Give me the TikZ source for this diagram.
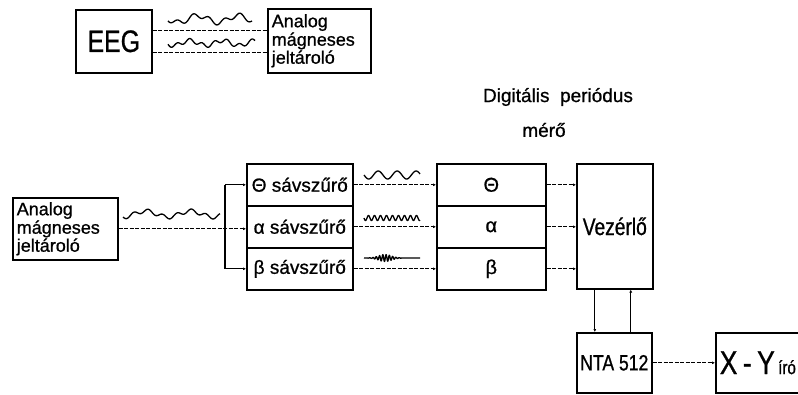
\documentclass[tikz,border=0pt]{standalone}
\usepackage{fontspec}
\setmainfont{Liberation Sans}[FakeBold=0.8]
\newfontfamily\nar{Liberation Sans}[FakeStretch=0.8, FakeBold=0.8]
\usetikzlibrary{arrows.meta,calc}
\begin{document}
\begin{tikzpicture}[x=1pt,y=-1pt,
  box/.style={draw, line width=1.6pt, rectangle, inner sep=0pt, anchor=north west},
  wire/.style={line width=1.1pt},
  conn/.style={line width=1.1pt, dash pattern=on 4pt off 1.5pt},
  tip/.style={-{Latex[length=3pt,width=3pt]}},
  wave/.style={line width=1.3pt, line join=round}]
\useasboundingbox[fill=white] (0,0) rectangle (798,394);

% ---- top: EEG and analog recorder
\node[box, minimum width=76pt, minimum height=63pt] (eeg) at (75,9)
  {\nar\fontsize{31}{31}\selectfont EEG};
\node[box, minimum height=64pt, text width=95pt, inner xsep=4pt, align=left] (an1) at (267,8)
  {\fontsize{18}{18.5}\selectfont Analog\\mágneses\\jeltároló};
\draw[conn] ([yshift=10.5pt]eeg.east) -- ([yshift=10.5pt]eeg.east -| an1.west);
\draw[conn] ([yshift=-11.5pt]eeg.east) -- ([yshift=-11.5pt]eeg.east -| an1.west);
\draw[wave] plot[domain=168:252, samples=90, smooth] (\x, {19 + 3.5*sin(9*(\x-168)) + 2.5*sin(23*(\x-168)+50)});
\draw[wave] plot[domain=168:255, samples=90, smooth] (\x, {43 + 2.5*sin(11*(\x-168)+30) + 2*sin(29*(\x-168))});

% ---- lower analog recorder
\node[box, minimum height=62pt, text width=97pt, inner xsep=4pt, align=left] (an2) at (12,197)
  {\fontsize{18}{18.5}\selectfont Analog\\mágneses\\jeltároló};
\draw[wave] plot[domain=123:220, samples=100, smooth] (\x, {214 + 3*sin(8*(\x-123)+90) + 2*sin(25*(\x-123))});

% ---- band filters
\node[box, minimum width=106pt, minimum height=42pt] (s1) at (246,163)
  {\fontsize{19}{19}\selectfont Θ sávszűrő};
\node[box, minimum width=106pt, minimum height=42pt] (s2) at (246,205)
  {\fontsize{19}{19}\selectfont α sávszűrő};
\node[box, minimum width=106pt, minimum height=42pt] (s3) at (246,247)
  {\fontsize{19}{19}\selectfont β sávszűrő};

\coordinate (br) at (225,227);
\draw[wire, tip] (br |- s1.west) -- (s1.west);
\draw[wire, tip] (br |- s3.west) -- (s3.west);
\draw[wire] (br |- s1.west) -- (br |- s3.west);
\draw[conn, tip] (an2.east) -- (an2.east -| s2.west);

% ---- digital period meter
\node (t1) at (558,97) {\fontsize{19}{19}\selectfont Digitális\ \ periódus};
\node (t2) at (544,130) {\fontsize{19}{19}\selectfont mérő};

\node[box, minimum width=109pt, minimum height=42pt] (m1) at (436,163)
  {\fontsize{20}{20}\selectfont Θ};
\node[box, minimum width=109pt, minimum height=42pt] (m2) at (436,205)
  {\fontsize{20}{20}\selectfont α};
\node[box, minimum width=109pt, minimum height=42pt] (m3) at (436,247)
  {\fontsize{20}{20}\selectfont β};

\draw[conn, tip] (s1.east) -- (m1.west);
\draw[conn, tip] (s2.east) -- (m2.west);
\draw[conn, tip] (s3.east) -- (m3.west);

\draw[wave] plot[domain=364:420, samples=80, smooth] (\x, {175 + 4*sin(19*(\x-364))});
\draw[wave] plot[domain=364:420, samples=160] (\x, {218 + 2.5*sin(60*(\x-364))});
\draw[wave] plot[domain=364:420, samples=220] (\x, {258 + 3.5*exp(-((\x-385)/9)^2)*sin(110*(\x-364))});

% ---- controller
\node[box, minimum width=76pt, minimum height=125pt] (vez) at (576,163)
  {\nar\fontsize{24}{24}\selectfont Vezérlő};
\draw[conn, tip] (m1.east) -- (m1.east -| vez.west);
\draw[conn, tip] (m2.east) -- (m2.east -| vez.west);
\draw[conn, tip] (m3.east) -- (m3.east -| vez.west);

% ---- NTA 512 and X-Y plotter
\node[box, minimum width=75pt, minimum height=60pt] (nta) at (576,332)
  {\nar\fontsize{22}{22}\selectfont NTA 512};
\node[box, minimum height=60pt, text width=92pt, inner xsep=4pt, align=left] (xy) at (715,332)
  {\nar\fontsize{33}{33}\selectfont X\,-\,Y{\fontsize{19}{19}\selectfont\ író}};

\draw[wire, tip] ([xshift=-20pt]vez.south) -- ([xshift=-20pt]vez.south |- nta.north);
\draw[wire, tip] ([xshift=16pt]vez.south |- nta.north) -- ([xshift=16pt]vez.south);
\draw[conn, tip] (nta.east) -- (xy.west);
\end{tikzpicture}
\end{document}
